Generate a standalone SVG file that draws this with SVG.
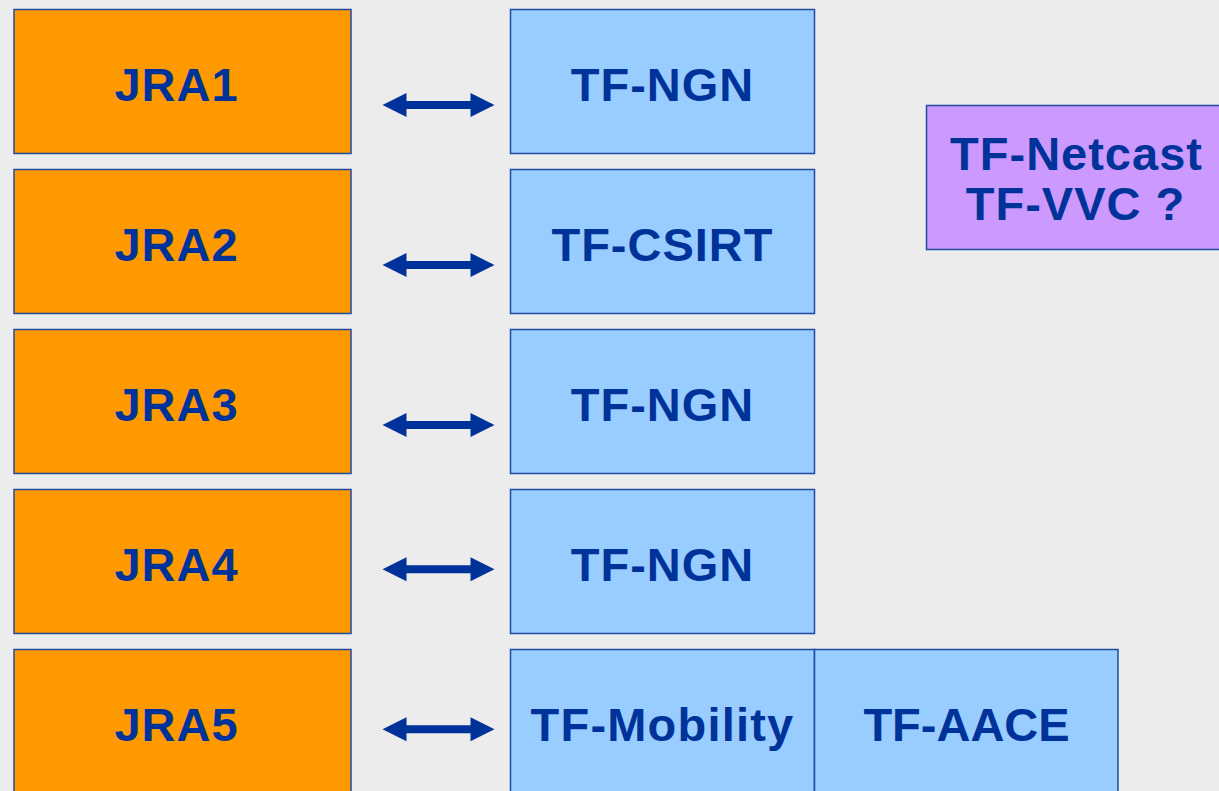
<svg xmlns="http://www.w3.org/2000/svg" width="1219" height="791" viewBox="0 0 1219 791">
<defs>
<style>
.bg{fill:#ECECEC}
.jra{fill:#FF9900;stroke:#1F4BA0;stroke-width:1.5}
.tf{fill:#99CCFF;stroke:#1F4BA0;stroke-width:1.5}
.pu{fill:#CC99FF;stroke:#1F4BA0;stroke-width:1.5}
.t{font-family:"Liberation Sans",Arial,sans-serif;font-weight:bold;font-size:47px;fill:#003399;text-anchor:middle;letter-spacing:1px}
.arr{fill:#003399}
</style>
<path id="dbl" d="M0 0 L24 -12 L24 -4 L88 -4 L88 -12 L112 0 L88 12 L88 4 L24 4 L24 12 Z"/>
</defs>
<rect class="bg" x="0" y="0" width="1219" height="791"/>
<g id="jra1"><rect class="jra" x="14" y="9.5" width="337" height="144"/><text class="t" x="176.5" y="100.5">JRA1</text></g>
<g id="jra2"><rect class="jra" x="14" y="169.5" width="337" height="144"/><text class="t" x="176.5" y="260.5">JRA2</text></g>
<g id="jra3"><rect class="jra" x="14" y="329.5" width="337" height="144"/><text class="t" x="176.5" y="420.5">JRA3</text></g>
<g id="jra4"><rect class="jra" x="14" y="489.5" width="337" height="144"/><text class="t" x="176.5" y="580.5">JRA4</text></g>
<g id="jra5"><rect class="jra" x="14" y="649.5" width="337" height="144"/><text class="t" x="176.5" y="740.5">JRA5</text></g>
<g id="tf-ngn-1"><rect class="tf" x="510.5" y="9.5" width="304" height="144"/><text class="t" x="662.5" y="100.5">TF-NGN</text></g>
<g id="tf-csirt"><rect class="tf" x="510.5" y="169.5" width="304" height="144"/><text class="t" x="662.5" y="260.5">TF-CSIRT</text></g>
<g id="tf-ngn-3"><rect class="tf" x="510.5" y="329.5" width="304" height="144"/><text class="t" x="662.5" y="420.5">TF-NGN</text></g>
<g id="tf-ngn-4"><rect class="tf" x="510.5" y="489.5" width="304" height="144"/><text class="t" x="662.5" y="580.5">TF-NGN</text></g>
<g id="tf-mobility"><rect class="tf" x="510.5" y="649.5" width="304" height="144"/><text class="t" x="662.5" y="740.5" style="letter-spacing:1.2px">TF-Mobility</text></g>
<g id="tf-aace"><rect class="tf" x="814.5" y="649.5" width="303.5" height="144"/><text class="t" x="966.5" y="740.5" style="letter-spacing:0px">TF-AACE</text></g>
<g id="tf-netcast"><rect class="pu" x="926.5" y="105.5" width="300" height="144"/><text class="t" x="1076.5" y="170">TF-Netcast</text><text class="t" x="1075.5" y="220">TF-VVC ?</text></g>
<g id="connectors" class="arr">
<use href="#dbl" x="382.5" y="105"/>
<use href="#dbl" x="382.5" y="265"/>
<use href="#dbl" x="382.5" y="425"/>
<use href="#dbl" x="382.5" y="569.3"/>
<use href="#dbl" x="382.5" y="729.3"/>
</g>
</svg>
